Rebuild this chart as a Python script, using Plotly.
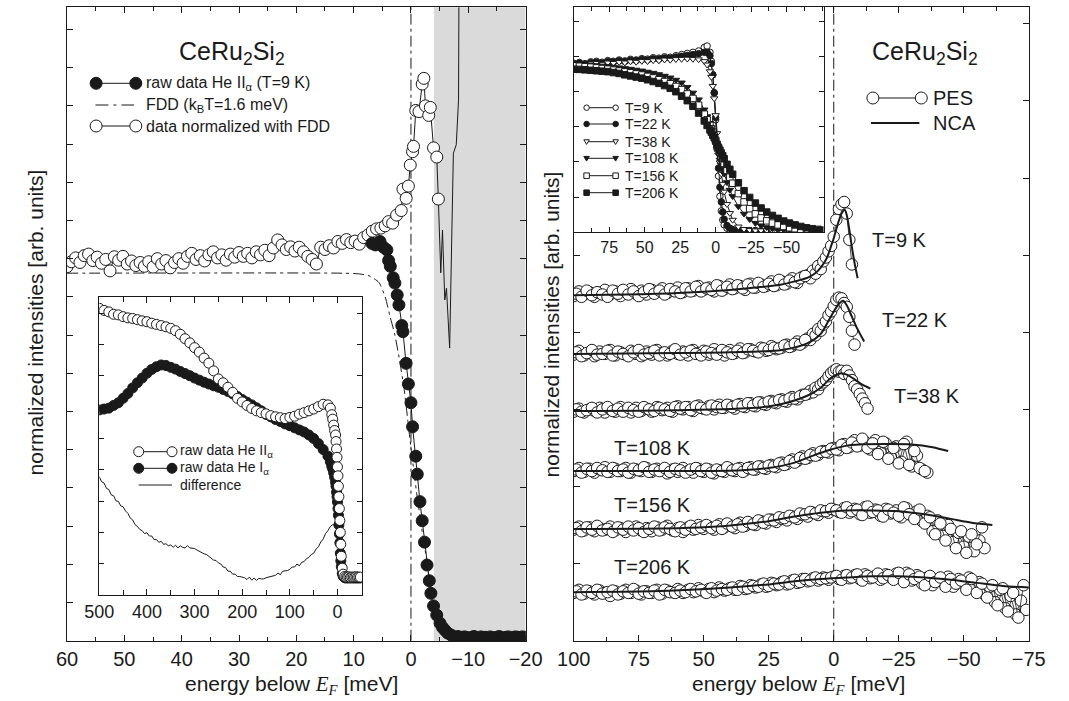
import numpy as np
import plotly.graph_objects as go

W, H = 1069, 701
FONT = "Liberation Sans, Arial, sans-serif"
INK = "#1a1a1a"

# ---------------------------------------------------------------- left panel
# He II (T = 9 K): spectrum divided by the FDD, regular part of the scan
E_NORM_START, E_NORM_STEP = 60.0, 0.75
norm_flat = [
    9.79, 9.92, 10.02, 9.90, 10.08, 10.12, 9.95, 10.04, 9.88, 9.98,
    9.68, 10.05, 9.96, 10.06, 9.86, 9.94, 9.82, 9.90, 9.80, 9.92,
    9.78, 10.00, 9.86, 9.95, 9.76, 9.90, 10.00, 9.88, 10.06, 10.14,
    9.98, 10.08, 9.94, 10.10, 10.18, 10.02, 10.10, 9.96, 10.12, 10.04,
    10.16, 10.06, 10.14, 10.02, 10.18, 10.10, 10.22, 10.08, 10.28, 10.49,
    10.36, 10.24, 10.31, 10.20, 10.30, 10.18, 10.06, 9.98, 9.86, 10.30,
    10.24, 10.34, 10.28, 10.45, 10.40, 10.50, 10.42, 10.46, 10.38, 10.55,
    10.62, 10.72, 10.78,
]
# normalized data around E_F
e_norm_edge = [5.25, 4.5, 3.9, 3.2, 2.5, 1.7, 1.4, 0.84, 0.45, 0.12, -0.28,
               -0.45, -0.84, -1.4, -1.96, -2.25, -2.53, -3.1, -3.38, -3.94,
               -4.5, -4.78]
norm_edge = [10.80, 10.86, 10.97, 10.93, 11.14, 11.26, 11.82, 11.58, 11.90,
             12.45, 12.80, 12.94, 13.88, 13.85, 14.57, 14.72, 14.00, 13.75,
             13.96, 12.90, 12.66, 11.56]
# normalized data above E_F (noise dominated)
e_norm_tail = [-4.78, -5.2, -5.5, -5.9, -6.2, -6.75, -7.4, -7.9, -8.3, -8.4]
norm_tail = [11.56, 9.63, 10.75, 8.92, 9.23, 7.66, 12.76, 12.98, 14.15, 18.0]

# raw He II spectrum
e_raw_edge = [6.8, 6.2, 5.4, 4.8, 4.2, 3.9, 3.6, 3.1, 2.8, 2.4, 2.1, 1.6, 1.4,
              0.85, 0.45, 0.0, -0.28, -0.84, -1.1, -1.57, -1.96, -2.36, -2.8,
              -3.2, -3.48, -3.94, -4.5, -5.07, -5.5, -5.9, -6.4, -7.0]
raw_edge = [10.40, 10.36, 10.45, 10.30, 10.23, 9.95, 9.80, 9.50, 9.36, 9.05,
            8.79, 8.25, 8.09, 7.26, 6.72, 6.23, 5.60, 4.83, 4.36, 3.64, 3.14,
            2.58, 1.98, 1.57, 1.24, 0.91, 0.67, 0.46, 0.35, 0.28, 0.20, 0.15]
E_RAW_TAIL_START, E_RAW_TAIL_STEP = -7.4, 0.4
raw_tail = [0.10, 0.08, 0.11, 0.07, 0.09, 0.10, 0.08, 0.06, 0.09, 0.11,
            0.08, 0.07, 0.10, 0.08, 0.09, 0.06, 0.10, 0.08, 0.07, 0.09,
            0.11, 0.08, 0.06, 0.09, 0.10, 0.07, 0.08, 0.10, 0.09, 0.07,
            0.10, 0.09]

# Fermi-Dirac cut-off (k_B T = 1.6 meV, resolution broadened)
e_fdd = [60, 12, 9, 7.3, 5.6, 4.5, 3.67, 2.8, 2.0, 1.2, 0.5, 0.0, -0.5, -1.1,
         -1.6, -1.96, -2.4, -2.8, -3.4, -3.94, -4.5, -5.07, -6.0, -7.0, -20]
fdd = [9.62, 9.62, 9.60, 9.55, 9.38, 9.00, 8.50, 8.00, 7.35, 6.60, 5.70, 5.05,
       4.45, 3.75, 3.25, 2.85, 2.45, 2.03, 1.35, 0.90, 0.55, 0.28, 0.10, 0.04,
       0.0]

# inset: wide-range He II / He I spectra
E_WIDE_START, E_WIDE_STEP = 500.0, 10.0
he2_wide = [0.962, 0.955, 0.950, 0.942, 0.940, 0.934, 0.930, 0.928, 0.924,
            0.920, 0.917, 0.912, 0.908, 0.904, 0.900, 0.895, 0.887, 0.875,
            0.860, 0.846, 0.830, 0.815, 0.795, 0.778, 0.752, 0.725, 0.712,
            0.697, 0.680, 0.660, 0.648, 0.636, 0.626, 0.618, 0.612, 0.608,
            0.602, 0.598, 0.595, 0.592, 0.596, 0.600, 0.607, 0.612, 0.618,
            0.624, 0.632, 0.640, 0.638]
he1_wide = [0.621, 0.624, 0.627, 0.636, 0.645, 0.660, 0.676, 0.695, 0.712,
            0.728, 0.744, 0.757, 0.766, 0.772, 0.770, 0.764, 0.758, 0.750,
            0.743, 0.736, 0.728, 0.721, 0.714, 0.708, 0.702, 0.697, 0.690,
            0.683, 0.675, 0.666, 0.656, 0.647, 0.638, 0.628, 0.618, 0.606,
            0.598, 0.589, 0.582, 0.574, 0.568, 0.561, 0.554, 0.547, 0.537,
            0.525, 0.508, 0.488, 0.466]
e_wide_edge = [15, 12, 10, 8, 6, 4, 3, 2, 1, 0, -1, -2, -3, -4, -5, -6, -7,
               -8, -10, -12, -15, -18, -21, -24, -27, -30, -33, -36, -39, -42,
               -45, -48]
he2_edge = [0.627, 0.605, 0.590, 0.570, 0.552, 0.537, 0.515, 0.490, 0.462,
            0.430, 0.400, 0.365, 0.330, 0.290, 0.250, 0.210, 0.170, 0.130,
            0.090, 0.070, 0.062, 0.060, 0.060, 0.061, 0.059, 0.060, 0.060,
            0.060, 0.061, 0.060, 0.060, 0.060]
he1_edge = [0.447, 0.432, 0.423, 0.410, 0.395, 0.378, 0.365, 0.345, 0.330,
            0.312, 0.290, 0.268, 0.235, 0.205, 0.175, 0.140, 0.115, 0.095,
            0.072, 0.063, 0.058, 0.057, 0.058, 0.057, 0.058, 0.057, 0.058,
            0.057, 0.058, 0.057, 0.058, 0.057]
E_DIFF_START, E_DIFF_STEP = 500.0, 5.0
diff = [0.397, 0.380, 0.376, 0.358, 0.354, 0.336, 0.333, 0.316, 0.314, 0.299,
        0.296, 0.282, 0.274, 0.258, 0.252, 0.236, 0.230, 0.220, 0.216, 0.206,
        0.209, 0.198, 0.198, 0.186, 0.186, 0.177, 0.180, 0.170, 0.172, 0.165,
        0.168, 0.160, 0.167, 0.158, 0.165, 0.160, 0.158, 0.166, 0.158, 0.157,
        0.156, 0.151, 0.146, 0.144, 0.138, 0.136, 0.130, 0.126, 0.117, 0.116,
        0.108, 0.104, 0.094, 0.092, 0.080, 0.080, 0.070, 0.070, 0.062, 0.062,
        0.059, 0.058, 0.052, 0.060, 0.050, 0.057, 0.049, 0.056, 0.054, 0.054,
        0.058, 0.060, 0.062, 0.064, 0.066, 0.074, 0.068, 0.080, 0.080, 0.082,
        0.086, 0.094, 0.094, 0.104, 0.098, 0.110, 0.112, 0.122, 0.126, 0.136,
        0.140, 0.154, 0.162, 0.178, 0.188, 0.206, 0.216, 0.230, 0.236, 0.234,
        0.224]

# --------------------------------------------------------------- right panel
# PES spectra divided by the FDD. Sweep A: 2 meV steps from 100 meV (low-T
# scans switch to 1 meV steps at 10 meV); sweep B: 2 meV steps from 99 meV.
PES_START, PES_COARSE, PES_FINE_START, N_COARSE = 100.0, 2.0, 10.0, 45
SWEEP_B_START = 99.0
pes_9 = [4.47, 4.53, 4.49, 4.52, 4.46, 4.51, 4.55, 4.49, 4.53, 4.47,
         4.52, 4.56, 4.50, 4.54, 4.49, 4.55, 4.52, 4.57, 4.51, 4.55,
         4.58, 4.52, 4.57, 4.54, 4.60, 4.55, 4.58, 4.53, 4.60, 4.56,
         4.62, 4.57, 4.60, 4.55, 4.63, 4.58, 4.62, 4.60, 4.66, 4.61,
         4.66, 4.63, 4.70, 4.64, 4.72,
         4.74, 4.70, 4.80, 4.76, 4.86, 4.82, 4.92, 4.97, 5.05, 5.12,
         5.24, 5.46, 5.60, 5.66, 5.69, 5.54, 5.20, 4.88]
pes_9b = [4.50, 4.46, 4.54, 4.48, 4.52, 4.49, 4.46, 4.54, 4.50, 4.55,
          4.49, 4.53, 4.47, 4.52, 4.56, 4.50, 4.54, 4.49, 4.56, 4.53,
          4.51, 4.57, 4.53, 4.59, 4.53, 4.57, 4.55, 4.61, 4.54, 4.59,
          4.56, 4.61, 4.57, 4.62, 4.58, 4.64, 4.59, 4.63, 4.60, 4.68,
          4.62, 4.67, 4.65, 4.70, 4.73]
pes_22 = [3.71, 3.76, 3.70, 3.74, 3.69, 3.75, 3.72, 3.77, 3.70, 3.74,
          3.71, 3.76, 3.72, 3.69, 3.75, 3.71, 3.77, 3.73, 3.70, 3.76,
          3.72, 3.75, 3.70, 3.77, 3.73, 3.76, 3.71, 3.78, 3.74, 3.70,
          3.77, 3.73, 3.79, 3.74, 3.78, 3.75, 3.80, 3.76, 3.82, 3.78,
          3.80, 3.84, 3.82, 3.88, 3.86,
          3.92, 3.90, 3.98, 3.96, 4.04, 4.02, 4.10, 4.14, 4.22, 4.27,
          4.34, 4.42, 4.45, 4.44, 4.38, 4.33, 4.20, 4.02, 3.84]
pes_22b = [3.74, 3.69, 3.73, 3.77, 3.71, 3.72, 3.76, 3.70, 3.75, 3.72,
           3.69, 3.74, 3.77, 3.71, 3.73, 3.76, 3.70, 3.74, 3.72, 3.78,
           3.71, 3.74, 3.76, 3.72, 3.70, 3.75, 3.73, 3.71, 3.77, 3.74,
           3.72, 3.76, 3.73, 3.78, 3.76, 3.74, 3.79, 3.77, 3.80, 3.79,
           3.83, 3.81, 3.85, 3.84, 3.90]
pes_38 = [2.97, 3.01, 2.96, 3.00, 2.98, 3.02, 2.96, 3.00, 2.97, 3.03,
          2.99, 2.96, 3.02, 2.98, 3.01, 2.97, 3.03, 2.99, 3.02, 2.97,
          3.04, 3.00, 3.03, 2.98, 3.05, 3.01, 3.04, 3.00, 3.06, 3.02,
          3.05, 3.01, 3.07, 3.03, 3.08, 3.04, 3.09, 3.06, 3.11, 3.08,
          3.13, 3.10, 3.16, 3.13, 3.19,
          3.20, 3.24, 3.22, 3.28, 3.26, 3.32, 3.35, 3.38, 3.43, 3.47,
          3.50, 3.52, 3.49, 3.50, 3.46, 3.50, 3.44, 3.38, 3.30, 3.26,
          3.20, 3.14, 3.08, 3.01]
pes_38b = [3.00, 2.97, 2.99, 3.02, 2.96, 3.00, 3.03, 2.98, 3.01, 2.97,
           3.02, 2.99, 2.97, 3.03, 3.00, 2.98, 3.02, 3.00, 2.98, 3.03,
           3.01, 3.03, 2.99, 3.04, 3.02, 3.00, 3.05, 3.03, 3.02, 3.06,
           3.03, 3.06, 3.04, 3.08, 3.05, 3.09, 3.07, 3.10, 3.09, 3.12,
           3.11, 3.14, 3.14, 3.17, 3.19]
pes_108 = [2.20, 2.24, 2.19, 2.23, 2.18, 2.22, 2.25, 2.19, 2.23, 2.20,
           2.24, 2.18, 2.22, 2.20, 2.24, 2.19, 2.23, 2.21, 2.17, 2.22,
           2.19, 2.24, 2.20, 2.18, 2.23, 2.19, 2.22, 2.17, 2.21, 2.19,
           2.23, 2.20, 2.24, 2.21, 2.25, 2.22, 2.26, 2.23, 2.28, 2.25,
           2.31, 2.29, 2.35, 2.33, 2.39, 2.37, 2.43, 2.41, 2.46, 2.44,
           2.50, 2.47, 2.55, 2.51, 2.60, 2.53, 2.58, 2.48, 2.60, 2.45,
           2.56, 2.38, 2.52, 2.32, 2.58, 2.26, 2.40, 2.22, 2.18]
pes_108b = [2.22, 2.18, 2.23, 2.20, 2.24, 2.21, 2.19, 2.24, 2.20, 2.22,
            2.18, 2.23, 2.21, 2.25, 2.19, 2.22, 2.20, 2.24, 2.19, 2.23,
            2.21, 2.18, 2.22, 2.24, 2.20, 2.23, 2.18, 2.22, 2.20, 2.25,
            2.21, 2.23, 2.19, 2.24, 2.22, 2.26, 2.24, 2.27, 2.26, 2.30,
            2.28, 2.33, 2.31, 2.37, 2.36, 2.41, 2.40, 2.45, 2.45, 2.49,
            2.48, 2.54, 2.50, 2.57, 2.52, 2.62, 2.50, 2.56, 2.42, 2.58,
            2.36, 2.50, 2.30, 2.55, 2.28, 2.46, 2.24, 2.20]
pes_156 = [1.44, 1.48, 1.43, 1.47, 1.42, 1.46, 1.44, 1.48, 1.43, 1.46,
           1.41, 1.45, 1.48, 1.43, 1.46, 1.42, 1.47, 1.44, 1.49, 1.43,
           1.46, 1.41, 1.47, 1.44, 1.50, 1.45, 1.48, 1.44, 1.51, 1.47,
           1.50, 1.46, 1.53, 1.49, 1.52, 1.50, 1.55, 1.52, 1.57, 1.54,
           1.58, 1.56, 1.61, 1.58, 1.63, 1.61, 1.66, 1.63, 1.68, 1.66,
           1.70, 1.67, 1.72, 1.66, 1.71, 1.64, 1.73, 1.66, 1.70, 1.62,
           1.71, 1.65, 1.69, 1.60, 1.72, 1.63, 1.68, 1.55, 1.62, 1.42,
           1.56, 1.36, 1.50, 1.28, 1.40, 1.22, 1.35, 1.16, 1.30, 1.20]
pes_156b = [1.46, 1.42, 1.47, 1.44, 1.49, 1.43, 1.45, 1.41, 1.47, 1.44,
            1.48, 1.43, 1.46, 1.41, 1.45, 1.48, 1.43, 1.47, 1.45, 1.42,
            1.47, 1.44, 1.49, 1.45, 1.47, 1.50, 1.46, 1.49, 1.45, 1.52,
            1.48, 1.51, 1.48, 1.54, 1.51, 1.56, 1.53, 1.57, 1.56, 1.60,
            1.59, 1.62, 1.60, 1.65, 1.64, 1.67, 1.65, 1.69, 1.68, 1.71,
            1.69, 1.66, 1.73, 1.68, 1.70, 1.63, 1.74, 1.67, 1.69, 1.61,
            1.70, 1.66, 1.62, 1.73, 1.64, 1.58, 1.70, 1.52, 1.60, 1.38,
            1.52, 1.30, 1.45, 1.20, 1.42, 1.14, 1.38, 1.25, 1.47]
pes_206 = [0.62, 0.66, 0.61, 0.64, 0.60, 0.65, 0.62, 0.58, 0.64, 0.61,
           0.66, 0.62, 0.65, 0.60, 0.64, 0.62, 0.66, 0.61, 0.65, 0.63,
           0.67, 0.62, 0.66, 0.63, 0.68, 0.64, 0.67, 0.63, 0.69, 0.65,
           0.68, 0.66, 0.71, 0.67, 0.72, 0.69, 0.73, 0.70, 0.75, 0.72,
           0.76, 0.73, 0.78, 0.75, 0.80, 0.77, 0.81, 0.78, 0.82, 0.79,
           0.83, 0.80, 0.84, 0.81, 0.85, 0.80, 0.86, 0.81, 0.84, 0.79,
           0.86, 0.82, 0.87, 0.80, 0.88, 0.78, 0.85, 0.74, 0.82, 0.72,
           0.80, 0.76, 0.83, 0.70, 0.80, 0.74, 0.82, 0.68, 0.76, 0.60,
           0.70, 0.50, 0.66, 0.42, 0.58, 0.34, 0.52, 0.40]
pes_206b = [0.64, 0.60, 0.65, 0.62, 0.66, 0.61, 0.63, 0.65, 0.60, 0.64,
            0.62, 0.67, 0.61, 0.64, 0.62, 0.65, 0.60, 0.66, 0.63, 0.62,
            0.65, 0.63, 0.67, 0.64, 0.66, 0.62, 0.68, 0.65, 0.67, 0.66,
            0.69, 0.66, 0.70, 0.68, 0.71, 0.70, 0.74, 0.71, 0.74, 0.73,
            0.77, 0.74, 0.79, 0.76, 0.80, 0.78, 0.82, 0.80, 0.81, 0.82,
            0.84, 0.79, 0.85, 0.82, 0.86, 0.78, 0.84, 0.82, 0.87, 0.81,
            0.85, 0.79, 0.88, 0.76, 0.86, 0.80, 0.83, 0.72, 0.84, 0.76,
            0.82, 0.70, 0.80, 0.74, 0.78, 0.66, 0.80, 0.62, 0.74, 0.56,
            0.72, 0.46, 0.68, 0.38, 0.62, 0.30, 0.72]

# NCA calculations
e_nca_9 = [100, 80, 60, 40, 30, 20, 15, 10, 7, 5, 3, 2, 1, 0, -1, -2, -3, -4.2,
           -5, -6, -7, -8, -9.2]
nca_9 = [4.48, 4.49, 4.51, 4.55, 4.58, 4.62, 4.66, 4.71, 4.77, 4.84, 4.94,
         5.02, 5.12, 5.22, 5.34, 5.45, 5.54, 5.59, 5.52, 5.33, 5.10, 4.90,
         4.70]
e_nca_22 = [100, 60, 40, 20, 10, 5, 2, 0, -2, -3.6, -5, -7, -9, -11.7]
nca_22 = [3.72, 3.73, 3.74, 3.77, 3.86, 3.98, 4.15, 4.27, 4.37, 4.41, 4.35,
          4.20, 4.05, 3.88]
e_nca_38 = [100, 60, 30, 20, 10, 5, 2, 0, -3, -5, -8, -11, -14.1]
nca_38 = [2.98, 2.99, 3.02, 3.07, 3.18, 3.28, 3.38, 3.43, 3.47, 3.45, 3.39,
          3.32, 3.27]
e_nca_108 = [100, 50, 35, 25, 15, 8, 2, -5, -10, -20, -30, -38, -44]
nca_108 = [2.20, 2.20, 2.21, 2.24, 2.31, 2.40, 2.47, 2.53, 2.545, 2.55, 2.545,
           2.51, 2.46]
e_nca_156 = [100, 60, 45, 35, 25, 15, 5, -5, -15, -25, -35, -45, -53, -61]
nca_156 = [1.45, 1.46, 1.48, 1.51, 1.55, 1.61, 1.66, 1.69, 1.69, 1.68, 1.64,
           1.58, 1.53, 1.50]
e_nca_206 = [100, 70, 55, 40, 25, 15, 5, -5, -15, -25, -35, -45, -55, -65, -75]
nca_206 = [0.63, 0.64, 0.66, 0.69, 0.73, 0.77, 0.80, 0.82, 0.835, 0.835, 0.82,
           0.79, 0.75, 0.71, 0.69]

temps = ["T=9 K", "T=22 K", "T=38 K", "T=108 K", "T=156 K", "T=206 K"]

# inset: raw spectra at all temperatures, common energy grid
e_inset = [100, 96, 92, 88, 84, 80, 76, 72, 68, 64, 60, 56, 52, 48, 44, 40,
           36, 32, 28, 24, 20, 16, 12, 8, 6, 4, 3, 2, 1, 0, -1, -2, -3, -4,
           -5, -6, -8, -10, -12, -16, -20, -24, -28, -32, -36, -40, -44, -48,
           -52, -56, -60, -64, -68, -72, -76]
N = None
ins_9 = [0.752, 0.755, 0.750, 0.758, 0.760, 0.756, 0.763, 0.760, 0.766, 0.762,
         0.769, 0.766, 0.772, 0.770, 0.776, 0.774, 0.780, 0.778, 0.785, 0.790,
         0.795, 0.800, 0.806, 0.822, 0.828, 0.800, 0.760, 0.700, 0.620, 0.500,
         0.370, 0.250, 0.160, 0.095, 0.055, 0.033, 0.018, 0.012, 0.010, 0.008,
         0.008, 0.007, 0.008, N, N, N, N, N, N, N, N, N, N, N, N]
ins_22 = [0.748, 0.752, 0.747, 0.754, 0.756, 0.752, 0.759, 0.757, 0.762, 0.759,
          0.765, 0.763, 0.768, 0.766, 0.771, 0.770, 0.775, 0.774, 0.779, 0.782,
          0.786, 0.790, 0.794, 0.800, 0.800, 0.785, 0.750, 0.700, 0.620, 0.510,
          0.385, 0.285, 0.200, 0.135, 0.090, 0.058, 0.030, 0.018, 0.012, 0.008,
          0.007, 0.007, 0.007, 0.007, 0.007, N, N, N, N, N, N, N, N, N, N]
ins_38 = [0.745, 0.748, 0.744, 0.750, 0.752, 0.748, 0.754, 0.752, 0.756, 0.754,
          0.759, 0.757, 0.761, 0.760, 0.764, 0.763, 0.767, 0.766, 0.769, 0.770,
          0.771, 0.770, 0.768, 0.760, 0.745, 0.715, 0.690, 0.650, 0.595, 0.520,
          0.440, 0.370, 0.310, 0.260, 0.215, 0.180, 0.125, 0.085, 0.055, 0.025,
          0.014, 0.010, 0.008, 0.008, 0.008, 0.008, 0.008, N, N, N, N, N, N,
          N, N]
ins_108 = [0.750, 0.748, 0.746, 0.744, 0.742, 0.740, 0.738, 0.735, 0.732,
           0.729, 0.726, 0.722, 0.718, 0.713, 0.708, 0.702, 0.695, 0.687,
           0.677, 0.665, 0.645, 0.620, 0.590, 0.545, 0.515, 0.485, 0.465,
           0.445, 0.420, 0.395, 0.370, 0.345, 0.322, 0.300, 0.280, 0.260,
           0.222, 0.188, 0.160, 0.115, 0.082, 0.058, 0.041, 0.030, 0.022,
           0.017, 0.013, 0.010, 0.009, N, N, N, N, N, N]
ins_156 = [0.740, 0.738, 0.736, 0.734, 0.731, 0.728, 0.725, 0.721, 0.717,
           0.713, 0.709, 0.704, 0.699, 0.693, 0.686, 0.678, 0.670, 0.660,
           0.648, 0.634, 0.615, 0.595, 0.565, 0.525, 0.500, 0.475, 0.460,
           0.445, 0.428, 0.410, 0.390, 0.372, 0.355, 0.338, 0.322, 0.306,
           0.275, 0.245, 0.218, 0.172, 0.135, 0.105, 0.082, 0.064, 0.051,
           0.041, 0.033, 0.026, 0.020, 0.016, 0.013, 0.011, 0.010, N, N]
ins_206 = [0.725, 0.724, 0.722, 0.720, 0.718, 0.716, 0.714, 0.710, 0.706,
           0.700, 0.695, 0.690, 0.685, 0.678, 0.670, 0.662, 0.652, 0.640,
           0.625, 0.605, 0.585, 0.560, 0.530, 0.495, 0.475, 0.455, 0.445,
           0.432, 0.420, 0.405, 0.390, 0.378, 0.365, 0.352, 0.340, 0.327,
           0.302, 0.280, 0.258, 0.220, 0.185, 0.155, 0.130, 0.108, 0.090,
           0.075, 0.062, 0.050, 0.041, 0.033, 0.026, 0.020, 0.016, 0.013,
           0.010]


# ------------------------------------------------------------------ helpers
def px(x):
    return x / W


def py(y):
    return 1 - y / H


def dom_x(x0, x1):
    return [x0 / W, x1 / W]


def dom_y(top, bottom):
    return [1 - bottom / H, 1 - top / H]


def axis(**kw):
    base = dict(showline=True, linecolor=INK, linewidth=1, mirror="ticks",
                ticks="inside", tickcolor=INK, ticklen=6, tickwidth=1,
                showgrid=False, zeroline=False,
                tickfont=dict(family=FONT, size=20, color=INK))
    base.update(kw)
    return base


def open_marker(size):
    return dict(symbol="circle", size=size, color="white",
                line=dict(color=INK, width=1))


def filled_marker(size):
    return dict(symbol="circle", size=size, color=INK,
                line=dict(color=INK, width=1))


fig = go.Figure()

# ---- left main
e_norm_flat = E_NORM_START - E_NORM_STEP * np.arange(len(norm_flat))
e_norm = np.concatenate([e_norm_flat, e_norm_edge])
norm = np.concatenate([norm_flat, norm_edge])
e_raw_tail = E_RAW_TAIL_START - E_RAW_TAIL_STEP * np.arange(len(raw_tail))
e_raw = np.concatenate([e_raw_edge, e_raw_tail])
raw = np.concatenate([raw_edge, raw_tail])

fig.add_trace(go.Scatter(x=e_fdd, y=fdd, mode="lines", xaxis="x", yaxis="y",
                         line=dict(color=INK, width=1, shape="spline",
                                   smoothing=0.6, dash="11px,4px,3px,4px")))
fig.add_trace(go.Scatter(x=e_norm_tail, y=norm_tail, mode="lines", xaxis="x",
                         yaxis="y", line=dict(color=INK, width=1)))
fig.add_trace(go.Scatter(x=e_norm, y=norm, mode="lines+markers", xaxis="x",
                         yaxis="y", line=dict(color=INK, width=1),
                         marker=open_marker(12)))
fig.add_trace(go.Scatter(x=e_raw, y=raw, mode="lines+markers", xaxis="x",
                         yaxis="y", line=dict(color=INK, width=1),
                         marker=filled_marker(12)))

# ---- left inset
e_wide = E_WIDE_START - E_WIDE_STEP * np.arange(len(he2_wide))
e_he = np.concatenate([e_wide, e_wide_edge])
he1 = np.concatenate([he1_wide, he1_edge])
he2 = np.concatenate([he2_wide, he2_edge])
e_diff = E_DIFF_START - E_DIFF_STEP * np.arange(len(diff))
fig.add_trace(go.Scatter(x=e_diff, y=diff, mode="lines", xaxis="x2",
                         yaxis="y2", line=dict(color=INK, width=1)))
fig.add_trace(go.Scatter(x=e_he, y=he1, mode="lines+markers", xaxis="x2",
                         yaxis="y2", line=dict(color=INK, width=1),
                         marker=filled_marker(10)))
fig.add_trace(go.Scatter(x=e_he, y=he2, mode="lines+markers", xaxis="x2",
                         yaxis="y2", line=dict(color=INK, width=1),
                         marker=open_marker(10)))


# ---- right main
def low_t_grid(n):
    coarse = PES_START - PES_COARSE * np.arange(N_COARSE)
    fine = PES_FINE_START - np.arange(n - N_COARSE)
    return np.concatenate([coarse, fine])


def step_grid(start, n):
    return start - PES_COARSE * np.arange(n)


pes_sets = [
    (low_t_grid(len(pes_9)), pes_9, pes_9b, e_nca_9, nca_9),
    (low_t_grid(len(pes_22)), pes_22, pes_22b, e_nca_22, nca_22),
    (low_t_grid(len(pes_38)), pes_38, pes_38b, e_nca_38, nca_38),
    (step_grid(PES_START, len(pes_108)), pes_108, pes_108b, e_nca_108,
     nca_108),
    (step_grid(PES_START, len(pes_156)), pes_156, pes_156b, e_nca_156,
     nca_156),
    (step_grid(PES_START, len(pes_206)), pes_206, pes_206b, e_nca_206,
     nca_206),
]
for e_a, v_a, v_b, e_n, v_n in pes_sets:
    e_b = step_grid(SWEEP_B_START, len(v_b))
    for e_s, v_s in [(e_a, v_a), (e_b, v_b)]:
        fig.add_trace(go.Scatter(x=e_s, y=v_s, mode="lines+markers",
                                 xaxis="x3", yaxis="y3",
                                 line=dict(color=INK, width=0.8),
                                 marker=open_marker(11.5)))
    fig.add_trace(go.Scatter(x=e_n, y=v_n, mode="lines", xaxis="x3",
                             yaxis="y3",
                             line=dict(color=INK, width=2, shape="spline",
                                       smoothing=0.8)))

# ---- right inset
inset_styles = [
    ("circle", "white"), ("circle", INK), ("triangle-down", "white"),
    ("triangle-down", INK), ("square", "white"), ("square", INK),
]
inset_sets = [ins_9, ins_22, ins_38, ins_108, ins_156, ins_206]
for vals, (sym, fill) in zip(inset_sets, inset_styles):
    fig.add_trace(go.Scatter(x=e_inset, y=vals, mode="lines+markers",
                             xaxis="x4", yaxis="y4",
                             line=dict(color=INK, width=1),
                             marker=dict(symbol=sym, size=6.5, color=fill,
                                         line=dict(color=INK, width=1))))

# ------------------------------------------------------------------- axes
LEFT_X, RIGHT_X = (51.7, 525.3), (575, 1045)
TOP, BOTTOM = 7.3, 640.7
fig.update_layout(
    xaxis=axis(domain=dom_x(*LEFT_X), range=[60, -20], tick0=0, dtick=10,
               minor=dict(ticks="inside", dtick=5, ticklen=4,
                          tickcolor=INK), anchor="y"),
    yaxis=axis(domain=dom_y(TOP, BOTTOM), range=[0, 16.58], tick0=0, dtick=1,
               showticklabels=False, anchor="x"),
    xaxis2=axis(domain=dom_x(85, 356), range=[500, -50.8], tick0=0,
                dtick=100, minor=dict(ticks="inside", dtick=50, ticklen=5,
                                      tickcolor=INK),
                tickfont=dict(family=FONT, size=18, color=INK), anchor="y2"),
    yaxis2=axis(domain=dom_y(297, 595), range=[0, 1], tick0=0, dtick=0.105,
                showticklabels=False, anchor="x2", ticklen=5),
    xaxis3=axis(domain=dom_x(*RIGHT_X), range=[100, -75], tick0=0, dtick=25,
                minor=dict(ticks="inside", dtick=12.5, ticklen=4,
                           tickcolor=INK), anchor="y3"),
    yaxis3=axis(domain=dom_y(TOP, BOTTOM), range=[0, 8.215], tick0=0,
                dtick=1, showticklabels=False, anchor="x3"),
    xaxis4=axis(domain=dom_x(575, 833), range=[100, -76], tickmode="array",
                tickvals=[75, 50, 25, 0, -25, -50],
                minor=dict(ticks="inside", tick0=0, dtick=12.5, ticklen=4,
                           tickcolor=INK),
                tickfont=dict(family=FONT, size=16, color=INK), anchor="y4",
                ticklen=5),
    yaxis4=axis(domain=dom_y(TOP, 232.3), range=[0, 1], tick0=0,
                dtick=0.1564, showticklabels=False, anchor="x4", ticklen=5),
)

# ------------------------------------------------------------------ shapes
shapes = [
    dict(type="rect", xref="x", yref="y domain", x0=-4, x1=-20, y0=0, y1=1,
         fillcolor="#dadada", line=dict(width=0), layer="below"),
]
DASHDOT = "11px,4px,3px,4px"
for xr, yr in [("x", "y domain"), ("x2", "y2 domain"), ("x3", "y3 domain"),
               ("x4", "y4 domain")]:
    shapes.append(dict(type="line", xref=xr, yref=yr, x0=0, x1=0, y0=0, y1=1,
                       line=dict(color=INK, width=1, dash=DASHDOT),
                       layer="below"))


def key_line(x0, x1, y, width=1, dash=None):
    ln = dict(color=INK, width=width)
    if dash:
        ln["dash"] = dash
    return dict(type="line", xref="paper", yref="paper", x0=px(x0), x1=px(x1),
                y0=py(y), y1=py(y), line=ln)


def key_marker(x, y, d, fill, kind="circle"):
    r = d / 2
    common = dict(xref="paper", yref="paper", xsizemode="pixel",
                  ysizemode="pixel", xanchor=px(x), yanchor=py(y),
                  line=dict(color=INK, width=1), fillcolor=fill)
    if kind == "triangle-down":
        return dict(type="path",
                    path=f"M {-r},{r * 0.7} L {r},{r * 0.7} L 0,{-r} Z",
                    **common)
    t = "rect" if kind == "square" else "circle"
    return dict(type=t, x0=-r, x1=r, y0=-r, y1=r, **common)


# legend keys: left main
shapes += [key_line(81.7, 122.7, 83.3), key_line(81.7, 122.7, 126)]
shapes += [key_line(81, 121, 105, dash="13px,5px,3px,5px")]
shapes += [key_marker(81.7, 83.3, 12, INK), key_marker(122.7, 83.3, 12, INK),
           key_marker(81.7, 126, 12, "white"),
           key_marker(122.7, 126, 12, "white")]
# legend keys: left inset
shapes += [key_line(125.7, 160.1, 451.7), key_line(125.7, 160.1, 468.3),
           key_line(125.7, 160.1, 485)]
shapes += [key_marker(125.7, 451.7, 10, "white"),
           key_marker(160.1, 451.7, 10, "white"),
           key_marker(125.7, 468.3, 10, INK), key_marker(160.1, 468.3, 10, INK)]
# legend keys: right main
shapes += [key_line(884, 934, 98), key_line(882, 932, 123, width=2)]
shapes += [key_marker(884, 98, 12, "white"), key_marker(934, 98, 12, "white")]
# legend keys: right inset
inset_key_y = [107.7, 124, 141.7, 158.3, 175.7, 192.7]
for yk, (sym, fill) in zip(inset_key_y, inset_styles):
    shapes.append(key_line(588.3, 618.3, yk))
for yk, (sym, fill) in zip(inset_key_y, inset_styles):
    shapes.append(key_marker(588.3, yk, 5.5, fill, sym))
    shapes.append(key_marker(618.3, yk, 5.5, fill, sym))

# ------------------------------------------------------------- annotations
ann = []


def text(x, y, s, size, anchor="center", angle=0):
    ann.append(dict(x=px(x), y=py(y), xref="paper", yref="paper", text=s,
                    showarrow=False, xanchor=anchor, yanchor="middle",
                    textangle=angle,
                    font=dict(family=FONT, size=size, color=INK)))


SERIF = "font-family:Liberation Serif"
x_title = (f'energy below <span style="{SERIF}"><i>E</i></span>'
           f'<sub><span style="{SERIF}"><i>F</i></span></sub> [meV]')
text(284, 685, x_title, 21)
text(807, 685, x_title, 21)
text(19, 322, "normalized intensities [arb. units]", 21, angle=-90)
text(552, 324, "normalized intensities [arb. units]", 21, angle=-90)

text(222, 53, "CeRu<sub>2</sub>Si<sub>2</sub>", 25)
text(938, 53, "CeRu<sub>2</sub>Si<sub>2</sub>", 25)

text(131, 83, "raw data He II<sub>α</sub> (T=9 K)", 16, "left")
text(131, 105, "FDD (k<sub>B</sub>T=1.6 meV)", 16, "left")
text(131, 126, "data normalized with FDD", 16, "left")

text(166, 451, "raw data He II<sub>α</sub>", 14, "left")
text(166, 468, "raw data He I<sub>α</sub>", 14, "left")
text(166, 485, "difference", 14, "left")

text(944, 98, "PES", 20, "left")
text(944, 123, "NCA", 20, "left")

for yk, lab in zip(inset_key_y, temps):
    text(626, yk, lab, 14, "left")

label_pos = [(912, 240), (927, 320), (940, 396), (656, 448), (656, 505),
             (656, 567)]
for (xl, yl), lab in zip(label_pos, temps):
    text(xl, yl, lab, 20)

fig.update_layout(
    width=W, height=H, autosize=False,
    margin=dict(l=0, r=0, t=0, b=0),
    paper_bgcolor="white", plot_bgcolor="white",
    showlegend=False, shapes=shapes, annotations=ann,
    font=dict(family=FONT, color=INK),
)

fig.write_html("out.html")
